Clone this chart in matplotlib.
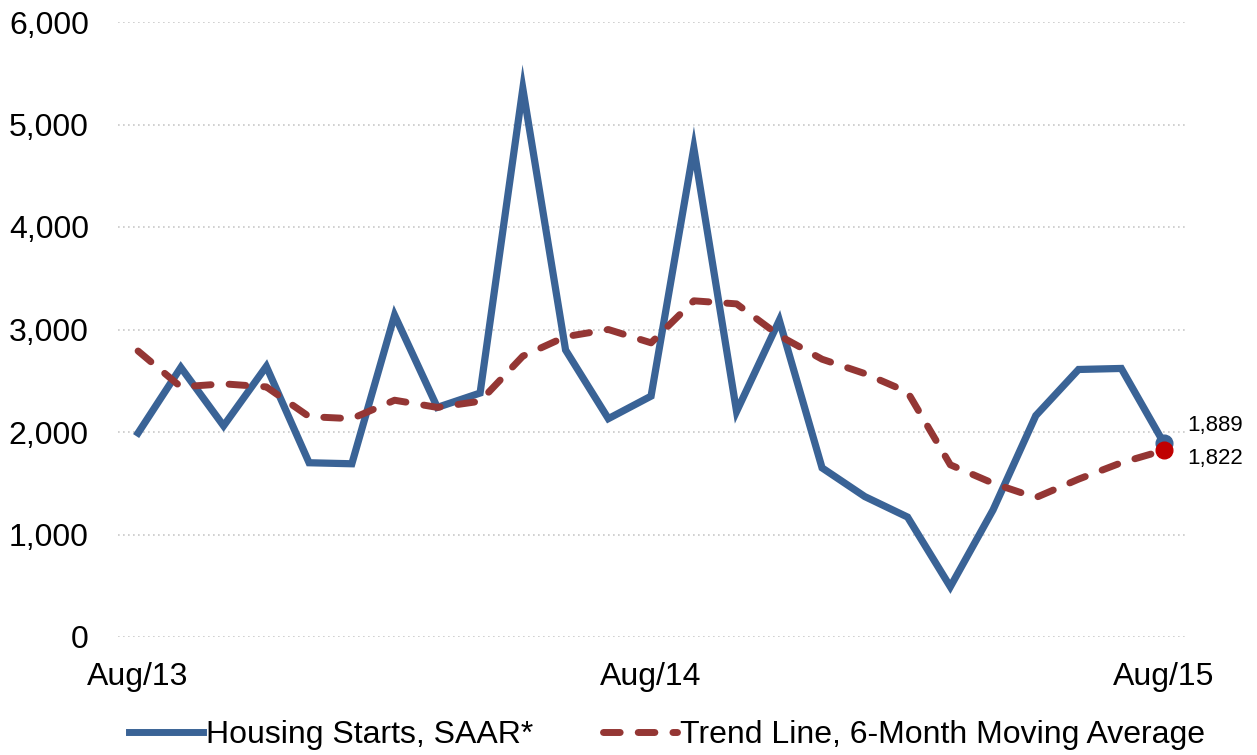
import matplotlib
matplotlib.use("Agg")
import matplotlib.pyplot as plt
from matplotlib.lines import Line2D

plt.rcParams['font.family'] = ['Liberation Sans', 'DejaVu Sans']

months = list(range(25))
tick_positions = [0, 12, 24]
tick_labels = ["Aug/13", "Aug/14", "Aug/15"]

housing_starts = [1990, 2630, 2060, 2640, 1700, 1690, 3140, 2240, 2380, 5350,
                  2800, 2130, 2350, 4770, 2200, 3090, 1650, 1370, 1170, 490,
                  1240, 2160, 2610, 2620, 1889]
trend = [2790, 2440, 2470, 2440, 2150, 2130, 2310, 2240, 2300, 2740,
         2930, 3000, 2870, 3280, 3250, 2940, 2710, 2570, 2390, 1680,
         1500, 1360, 1540, 1700, 1822]

series_names = ["Housing Starts, SAAR*", "Trend Line, 6-Month Moving Average"]
yticks = [0, 1000, 2000, 3000, 4000, 5000, 6000]

blue = "#3A6396"
red = "#943634"

fig = plt.figure(figsize=(12.57, 7.55), dpi=100)
ax = fig.add_axes([118/1257, (755-637)/755, (1185-118)/1257, (637-22)/755])

ax.plot(months, housing_starts, color=blue, lw=5.2, solid_joinstyle='miter', zorder=3)
ax.plot(months, trend, color=red, lw=5, dashes=(2.4, 2.6), dash_capstyle='round',
        dash_joinstyle='round', zorder=4)
ax.plot(months[-1], housing_starts[-1], 'o', color=blue, ms=12, zorder=5)
ax.plot(months[-1], trend[-1], 'o', color="#C00000", ms=12, zorder=6)

ax.annotate(f"{housing_starts[-1]:,}", (months[-1], housing_starts[-1]),
            xytext=(17, 13), textcoords='offset points', fontsize=16,
            va='center', ha='left')
ax.annotate(f"{trend[-1]:,}", (months[-1], trend[-1]),
            xytext=(17, -6), textcoords='offset points', fontsize=16,
            va='center', ha='left')

ax.set_xlim(-0.47, 24.49)
ax.set_ylim(0, 6000)
ax.set_yticks(yticks)
ax.set_yticklabels([f"{v:,}" for v in yticks], fontsize=23)
ax.set_xticks(tick_positions)
ax.set_xticklabels(tick_labels, fontsize=23)
ax.tick_params(axis='both', length=0)
ax.tick_params(axis='y', pad=21)
ax.tick_params(axis='x', pad=18)
ax.grid(axis='y', color='#c8c8c8', linestyle=(0, (1, 2)), lw=1.2)
ax.set_axisbelow(True)
for s in ax.spines.values():
    s.set_visible(False)

handles = [Line2D([], [], color=blue, lw=5),
           Line2D([], [], color=red, lw=5, dashes=(2.4, 2.6), dash_capstyle='round')]
fig.legend(handles, series_names, loc='center', bbox_to_anchor=(667/1257, 1 - 735/755),
           ncol=2, frameon=False, fontsize=23, handlelength=2.3, handletextpad=0.1,
           columnspacing=2.2)

fig.savefig("out.png", dpi=100)
